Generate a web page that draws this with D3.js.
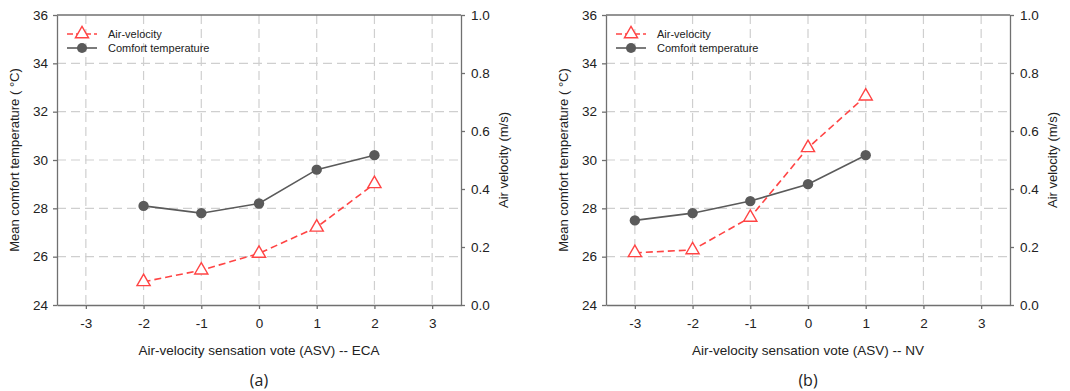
<!DOCTYPE html>
<meta charset="utf-8">
<head>
<script src="https://d3js.org/d3.v7.min.js"></script>
<style>
  body { margin: 0; background: #fff; }
  text { font-family: "Liberation Sans", Arial, sans-serif; }
</style>
</head>
<body>
<div id="my_dataviz"></div>
<script>

// ASV categories for each panel
var asvECA = [-2, -1, 0, 1, 2];
var asvNV = [-3, -2, -1, 0, 1];

// comfort temperature (deg C, left axis)
var tempECA = [28.1, 27.8, 28.2, 29.6, 30.2];
var tempNV = [27.5, 27.8, 28.3, 29.0, 30.2];

// air velocity (m/s, right axis)
var velECA = [0.08, 0.12, 0.178, 0.268, 0.418];
var velNV = [0.18, 0.19, 0.302, 0.542, 0.72];

// tick labels
var xTicks = [-3, -2, -1, 0, 1, 2, 3];
var tempTicks = [24, 26, 28, 30, 32, 34, 36];
var velTicks = [0, 0.2, 0.4, 0.6, 0.8, 1.0];

var panels = [
  { left: 57, xs: asvECA, temp: tempECA, vel: velECA, title: "Air-velocity sensation vote (ASV) -- ECA", tag: "(a)" },
  { left: 606, xs: asvNV, temp: tempNV, vel: velNV, title: "Air-velocity sensation vote (ASV) -- NV", tag: "(b)" }
];

var W = 1070, H = 391;
var pw = 404, plotTop = 15, plotBottom = 305;

var red = "#ff4444", grey = "#5a5a5a", axisCol = "#707070";

var svg = d3.select("#my_dataviz")
  .append("svg")
    .attr("width", W)
    .attr("height", H);

panels.forEach(function(p) {
  var g = svg.append("g").attr("transform", "translate(" + p.left + ",0)");

  var x = d3.scaleLinear().domain([-3.5, 3.5]).range([0, pw]);
  var yT = d3.scaleLinear().domain([24, 36]).range([plotBottom, plotTop]);
  var yV = d3.scaleLinear().domain([0, 1]).range([plotBottom, plotTop]);

  // dashed grid
  g.selectAll(".vgrid")
    .data(xTicks)
    .enter()
    .append("line")
      .attr("x1", function(d){ return x(d) })
      .attr("x2", function(d){ return x(d) })
      .attr("y1", plotTop)
      .attr("y2", plotBottom)
      .attr("stroke", "#cfcfcf")
      .attr("stroke-width", 1.2)
      .attr("stroke-dasharray", "9,5");

  g.selectAll(".hgrid")
    .data(tempTicks.filter(function(d){ return d > 24 && d < 36 }))
    .enter()
    .append("line")
      .attr("x1", 0)
      .attr("x2", pw)
      .attr("y1", function(d){ return yT(d) })
      .attr("y2", function(d){ return yT(d) })
      .attr("stroke", "#cfcfcf")
      .attr("stroke-width", 1.2)
      .attr("stroke-dasharray", "9,5");

  // axes (plain hyphen for negatives)
  var ax = g.append("g")
    .attr("transform", "translate(0," + plotBottom + ")")
    .call(d3.axisBottom(x).tickValues(xTicks).tickSize(4).tickSizeOuter(0).tickPadding(9).tickFormat(function(d){ return String(d) }));
  var ayl = g.append("g")
    .call(d3.axisLeft(yT).tickValues(tempTicks).tickSize(4).tickSizeOuter(0).tickPadding(5).tickFormat(function(d){ return String(d) }));
  var ayr = g.append("g")
    .attr("transform", "translate(" + pw + ",0)")
    .call(d3.axisRight(yV).tickValues(velTicks).tickSize(4).tickSizeOuter(0).tickPadding(6).tickFormat(d3.format(".1f")));

  [ax, ayl, ayr].forEach(function(a) {
    a.selectAll("path, line").attr("stroke", axisCol).attr("stroke-width", 1.3);
    a.selectAll("text").attr("font-size", "13.5px").attr("fill", "#222")
      .style("font-family", "'Liberation Sans', Arial, sans-serif");
  });

  // top frame line
  g.append("line")
    .attr("x1", 0).attr("x2", pw)
    .attr("y1", plotTop).attr("y2", plotTop)
    .attr("stroke", axisCol).attr("stroke-width", 1.3);

  // comfort temperature line
  var ptsT = p.xs.map(function(d, i){ return [d, p.temp[i]] });
  g.append("path")
    .datum(ptsT)
    .attr("fill", "none")
    .attr("stroke", grey)
    .attr("stroke-width", 1.6)
    .attr("d", d3.line().x(function(d){ return x(d[0]) }).y(function(d){ return yT(d[1]) }));

  // air velocity dashed line
  var ptsV = p.xs.map(function(d, i){ return [d, p.vel[i]] });
  g.append("path")
    .datum(ptsV)
    .attr("fill", "none")
    .attr("stroke", red)
    .attr("stroke-width", 1.6)
    .attr("stroke-dasharray", "7,4")
    .attr("d", d3.line().x(function(d){ return x(d[0]) }).y(function(d){ return yV(d[1]) }));

  g.selectAll(".dot")
    .data(ptsT)
    .enter()
    .append("circle")
      .attr("cx", function(d){ return x(d[0]) })
      .attr("cy", function(d){ return yT(d[1]) })
      .attr("r", 5.2)
      .attr("fill", grey);

  var tri = d3.symbol().type(d3.symbolTriangle).size(75);
  g.selectAll(".tri")
    .data(ptsV)
    .enter()
    .append("path")
      .attr("d", tri)
      .attr("transform", function(d){ return "translate(" + x(d[0]) + "," + yV(d[1]) + ")" })
      .attr("fill", "#fff")
      .attr("stroke", red)
      .attr("stroke-width", 1.4);

  // legend
  g.append("line")
    .attr("x1", 10).attr("x2", 40).attr("y1", 34).attr("y2", 34)
    .attr("stroke", red).attr("stroke-width", 1.6).attr("stroke-dasharray", "6,3");
  g.append("path")
    .attr("d", tri)
    .attr("transform", "translate(25,34)")
    .attr("fill", "#fff").attr("stroke", red).attr("stroke-width", 1.4);
  g.append("line")
    .attr("x1", 10).attr("x2", 40).attr("y1", 48).attr("y2", 48)
    .attr("stroke", grey).attr("stroke-width", 1.6);
  g.append("circle")
    .attr("cx", 25).attr("cy", 48).attr("r", 5).attr("fill", grey);
  g.append("text")
    .attr("x", 51).attr("y", 38)
    .text("Air-velocity")
    .attr("font-size", "11px").attr("fill", "#222");
  g.append("text")
    .attr("x", 51).attr("y", 52)
    .text("Comfort temperature")
    .attr("font-size", "11px").attr("fill", "#222");

  // axis titles
  g.append("text")
    .attr("transform", "translate(-38," + ((plotTop + plotBottom) / 2) + ") rotate(-90)")
    .attr("text-anchor", "middle")
    .text("Mean comfort temperature ( °C)")
    .attr("font-size", "13px").attr("fill", "#222");
  g.append("text")
    .attr("transform", "translate(" + (pw + 47) + "," + ((plotTop + plotBottom) / 2) + ") rotate(-90)")
    .attr("text-anchor", "middle")
    .text("Air velocity (m/s)")
    .attr("font-size", "13px").attr("fill", "#222");
  g.append("text")
    .attr("x", x(0)).attr("y", 355)
    .attr("text-anchor", "middle")
    .text(p.title)
    .attr("font-size", "13.5px").attr("fill", "#222");
  g.append("text")
    .attr("x", x(0)).attr("y", 386)
    .attr("text-anchor", "middle")
    .text(p.tag)
    .attr("font-size", "16px").attr("fill", "#222")
    .style("font-family", "'Open Sans', 'Noto Sans', sans-serif");
});

</script>
</body>
